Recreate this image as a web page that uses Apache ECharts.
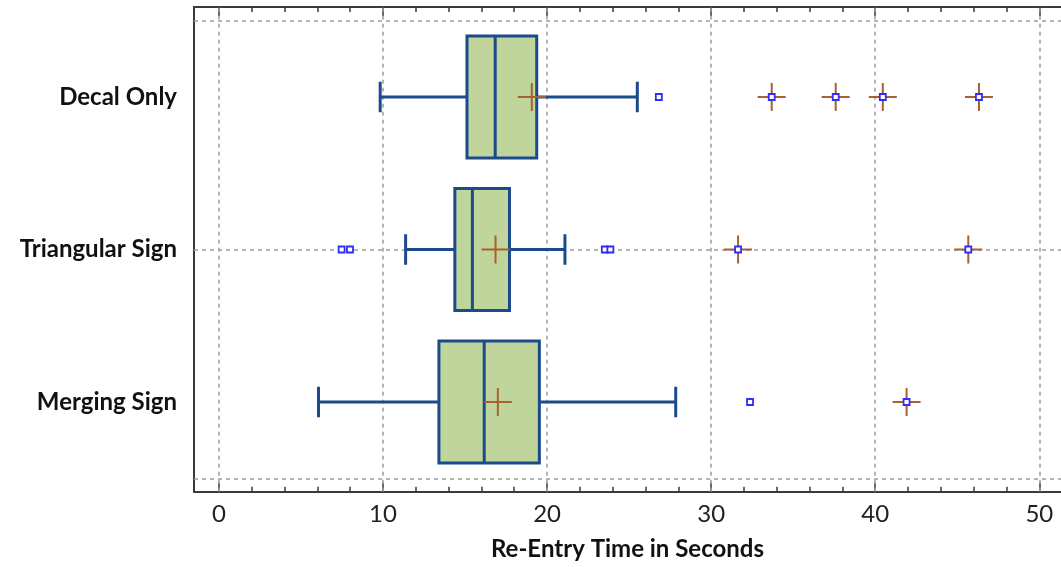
<!DOCTYPE html>
<html><head><meta charset="utf-8">
<script src="https://cdn.jsdelivr.net/npm/echarts@6/dist/echarts.min.js"></script>
<style>html,body{margin:0;padding:0;background:#fff}#c{width:1061px;height:567px}</style>
</head><body><div id="c"></div>
<script>
const categories = ['Decal Only', 'Triangular Sign', 'Merging Sign'];
const lowWhisker  = [9.83, 11.38, 6.07];
const q1          = [15.12, 14.38, 13.41];
const median      = [16.84, 15.45, 16.17];
const q3          = [19.37, 17.71, 19.53];
const highWhisker = [25.5, 21.09, 27.84];
const mean        = [19.07, 16.86, 17.0];
const outliers    = [[26.81], [7.48, 7.99, 23.52, 23.86], [32.37]];
const farOutliers = [[33.69, 37.59, 40.46, 46.32], [31.64, 45.67], [41.91]];
const xTickLabels = [0, 10, 20, 30, 40, 50];
const xMinorTicks = [2, 4, 6, 8, 12, 14, 16, 18, 22, 24, 26, 28, 32, 34, 36, 38, 42, 44, 46, 48];
const xAxisTitle = 'Re-Entry Time in Seconds';

const yPos = categories.map((c, i) => (categories.length - 1 - i) * 2 + 1);
const boxData = categories.map((c, i) => [yPos[i], lowWhisker[i], q1[i], median[i], q3[i], highWhisker[i], mean[i]]);
const outData = [];
outliers.forEach((arr, i) => arr.forEach(v => outData.push([v, yPos[i]])));
const farData = [];
farOutliers.forEach((arr, i) => arr.forEach(v => farData.push([v, yPos[i]])));
const allSquares = outData.concat(farData);

const XMIN = -1.516, XMAX = 51.32, YMIN = -0.176, YMAX = 6.18;
const AX = '#3a3a3a';
const BOXLINE = '#1c4b8c', BOXFILL = '#c0d59b', CROSS = '#a8602e', OUT = '#2d2dff';
const FONT = 'Lato';
const gridRect = {left: 194, top: 7, right: -4, bottom: 75.3};

function cross(cx, cy, h) {
  return [
    {type: 'line', shape: {x1: cx - h, y1: cy, x2: cx + h, y2: cy}, style: {stroke: CROSS, lineWidth: 2}},
    {type: 'line', shape: {x1: cx, y1: cy - h, x2: cx, y2: cy + h}, style: {stroke: CROSS, lineWidth: 2}}
  ];
}

function renderBox(params, api) {
  const y = api.value(0);
  const pLo = api.coord([api.value(1), y]);
  const pQ1 = api.coord([api.value(2), y]);
  const pMed = api.coord([api.value(3), y]);
  const pQ3 = api.coord([api.value(4), y]);
  const pHi = api.coord([api.value(5), y]);
  const pMean = api.coord([api.value(6), y]);
  const halfH = api.size([0, 0.8])[1];
  const capH = api.size([0, 0.2])[1];
  const cy = pMed[1];
  const ls = {stroke: BOXLINE, lineWidth: 3};
  return {
    type: 'group',
    children: [
      {type: 'line', shape: {x1: pLo[0], y1: cy, x2: pQ1[0], y2: cy}, style: ls},
      {type: 'line', shape: {x1: pQ3[0], y1: cy, x2: pHi[0], y2: cy}, style: ls},
      {type: 'line', shape: {x1: pLo[0], y1: cy - capH, x2: pLo[0], y2: cy + capH}, style: ls},
      {type: 'line', shape: {x1: pHi[0], y1: cy - capH, x2: pHi[0], y2: cy + capH}, style: ls},
      {type: 'rect', shape: {x: pQ1[0], y: cy - halfH, width: pQ3[0] - pQ1[0], height: 2 * halfH},
        style: {fill: BOXFILL, stroke: BOXLINE, lineWidth: 3}},
      {type: 'line', shape: {x1: pMed[0], y1: cy - halfH, x2: pMed[0], y2: cy + halfH}, style: ls}
    ].concat(cross(pMean[0], pMean[1], 14))
  };
}

function renderFar(params, api) {
  const p = api.coord([api.value(0), api.value(1)]);
  return {type: 'group', children: cross(p[0], p[1], 14)};
}

const option = {
  animation: false,
  backgroundColor: '#fff',
  grid: [
    Object.assign({}, gridRect),
    Object.assign({}, gridRect)
  ],
  xAxis: [
    {
      gridIndex: 0, type: 'value', min: XMIN, max: XMAX, position: 'bottom',
      axisLine: {show: true, onZero: false, lineStyle: {color: AX, width: 2}},
      axisTick: {show: true, inside: true, length: 9, customValues: xTickLabels, lineStyle: {color: AX, width: 1.5}},
      axisLabel: {show: true, customValues: xTickLabels, fontSize: 24, color: '#222', fontFamily: FONT, margin: 11},
      splitLine: {show: false},
      name: xAxisTitle, nameLocation: 'middle', nameGap: 46,
      nameTextStyle: {fontSize: 24, fontWeight: 'bold', color: '#111', fontFamily: FONT}
    },
    {
      gridIndex: 0, type: 'value', min: XMIN, max: XMAX, position: 'top',
      axisLine: {show: true, onZero: false, lineStyle: {color: AX, width: 2}},
      axisTick: {show: true, inside: true, length: 9, customValues: xTickLabels, lineStyle: {color: AX, width: 1.5}},
      axisLabel: {show: false}, splitLine: {show: false}
    },
    {
      gridIndex: 1, type: 'value', min: XMIN, max: XMAX, position: 'bottom',
      axisLine: {show: false, onZero: false},
      axisTick: {show: true, inside: true, length: 5, customValues: xMinorTicks, lineStyle: {color: AX, width: 1.5}},
      axisLabel: {show: false}, splitLine: {show: false}
    },
    {
      gridIndex: 1, type: 'value', min: XMIN, max: XMAX, position: 'top',
      axisLine: {show: false, onZero: false},
      axisTick: {show: true, inside: true, length: 5, customValues: xMinorTicks, lineStyle: {color: AX, width: 1.5}},
      axisLabel: {show: false}, splitLine: {show: false}
    }
  ],
  yAxis: [
    {
      gridIndex: 0, type: 'value', min: YMIN, max: YMAX,
      axisLine: {show: true, onZero: false, lineStyle: {color: AX, width: 2}},
      axisTick: {show: false},
      axisLabel: {
        show: true, customValues: yPos, margin: 17,
        fontSize: 24, fontWeight: 'bold', color: '#111', fontFamily: FONT,
        formatter: v => { const i = yPos.indexOf(Math.round(v)); return i >= 0 ? categories[i] : ''; }
      },
      splitLine: {show: false}
    },
    {gridIndex: 1, type: 'value', min: YMIN, max: YMAX, show: false, axisLine: {onZero: false}}
  ],
  series: [
    {
      type: 'line', xAxisIndex: 0, yAxisIndex: 0, data: [], z: 1, silent: true,
      markLine: {
        silent: true, symbol: ['none', 'none'], label: {show: false},
        lineStyle: {type: [4, 4], color: '#9c9c9c', width: 1.5},
        emphasis: {disabled: true},
        data: xTickLabels.map(v => ({xAxis: v})).concat([0, 3, 6].map(v => ({yAxis: v})))
      }
    },
    {
      type: 'custom', xAxisIndex: 0, yAxisIndex: 0, z: 10, silent: true,
      renderItem: renderBox, data: boxData, encode: {x: [1, 2, 3, 4, 5, 6], y: 0}
    },
    {
      type: 'custom', xAxisIndex: 0, yAxisIndex: 0, z: 11, silent: true,
      renderItem: renderFar, data: farData, encode: {x: 0, y: 1}
    },
    {
      type: 'scatter', xAxisIndex: 0, yAxisIndex: 0, z: 12, silent: true,
      symbol: 'rect', symbolSize: 6,
      itemStyle: {color: '#fff', borderColor: OUT, borderWidth: 1.8, opacity: 1},
      data: allSquares
    }
  ]
};
const chart = echarts.init(document.getElementById('c'));
chart.setOption(option);
</script>
</body></html>
